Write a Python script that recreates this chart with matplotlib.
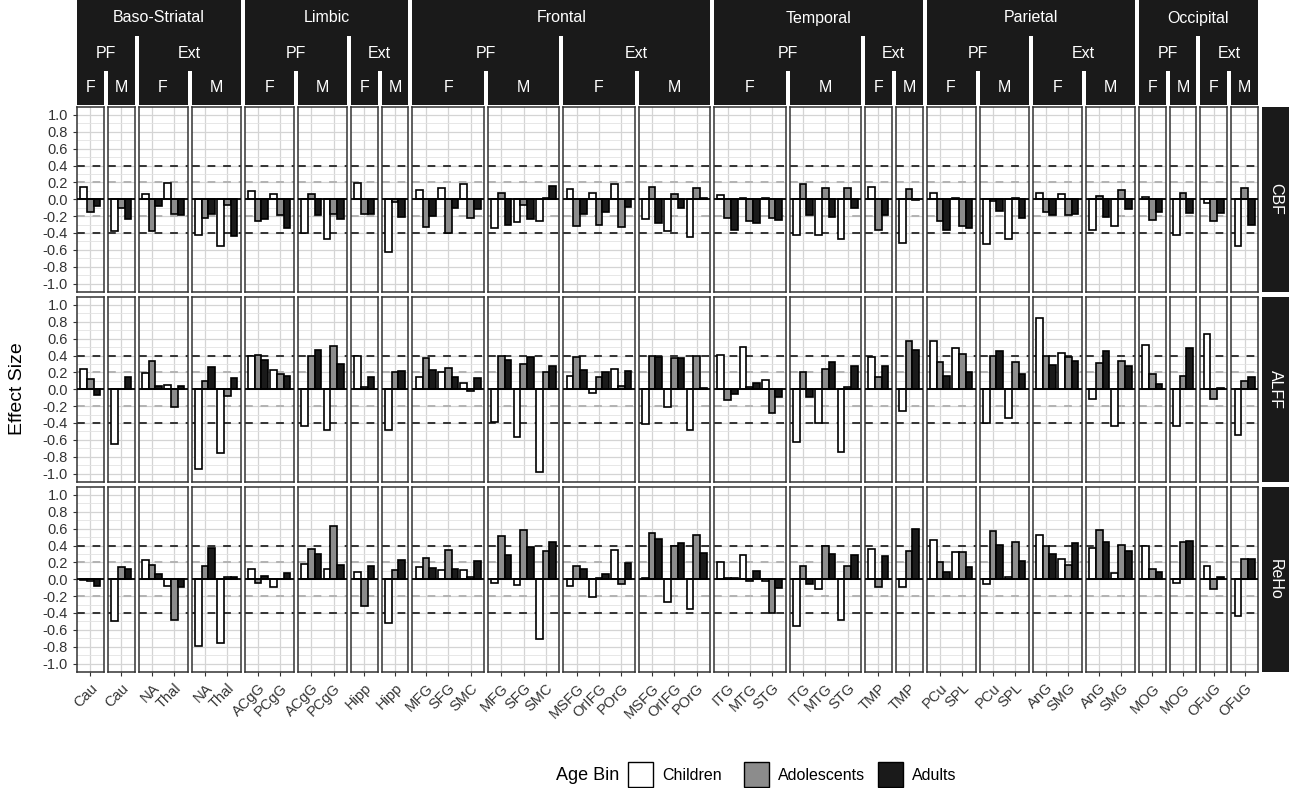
import matplotlib.pyplot as plt
from matplotlib.patches import Rectangle
import numpy as np

plt.rcParams['font.family'] = ['Liberation Sans', 'DejaVu Sans']

# facet layout: one panel per (region, type, sex)
panel_region = ['Baso-Striatal'] * 4 + ['Limbic'] * 4 + ['Frontal'] * 4 + \
    ['Temporal'] * 4 + ['Parietal'] * 4 + ['Occipital'] * 4
panel_type = ['PF', 'PF', 'Ext', 'Ext'] * 6
panel_sex = ['F', 'M'] * 12
panel_rois = [['Cau'], ['Cau'], ['NA', 'Thal'], ['NA', 'Thal'],
              ['ACgG', 'PCgG'], ['ACgG', 'PCgG'], ['Hipp'], ['Hipp'],
              ['MFG', 'SFG', 'SMC'], ['MFG', 'SFG', 'SMC'],
              ['MSFG', 'OrIFG', 'POrG'], ['MSFG', 'OrIFG', 'POrG'],
              ['ITG', 'MTG', 'STG'], ['ITG', 'MTG', 'STG'], ['TMP'], ['TMP'],
              ['PCu', 'SPL'], ['PCu', 'SPL'], ['AnG', 'SMG'], ['AnG', 'SMG'],
              ['MOG'], ['MOG'], ['OFuG'], ['OFuG']]

metrics = ['CBF', 'ALFF', 'ReHo']
age_bins = ['Children', 'Adolescents', 'Adults']

# effect sizes, in panel/ROI order
cbf_children = [0.15, -0.38, 0.06, 0.19, -0.42, -0.56, 0.10, 0.06, -0.40, -0.47, 0.19, -0.62,
                0.11, 0.13, 0.18, -0.34, -0.27, -0.26, 0.12, 0.07, 0.18, -0.24, -0.38, -0.45,
                0.05, 0.02, 0.01, -0.42, -0.42, -0.47, 0.14, -0.52, 0.08, 0.02, -0.53, -0.47,
                0.08, 0.06, -0.36, -0.32, 0.03, -0.42, -0.05, -0.55]
cbf_adolescents = [-0.15, -0.10, -0.38, -0.17, -0.22, -0.07, -0.26, -0.19, 0.06, -0.18, -0.18, -0.03,
                   -0.33, -0.40, -0.22, 0.08, -0.07, 0.01, -0.32, -0.30, -0.33, 0.14, 0.06, 0.13,
                   -0.22, -0.26, -0.22, 0.18, 0.13, 0.13, -0.36, 0.12, -0.26, -0.32, -0.02, 0.02,
                   -0.15, -0.19, 0.04, 0.11, -0.25, 0.07, -0.26, 0.13]
cbf_adults = [-0.08, -0.24, -0.08, -0.19, -0.17, -0.43, -0.23, -0.34, -0.19, -0.24, -0.18, -0.21,
              -0.20, -0.10, -0.11, -0.30, -0.24, 0.16, -0.18, -0.15, -0.09, -0.28, -0.10, 0.01,
              -0.36, -0.28, -0.25, -0.19, -0.21, -0.10, -0.19, -0.01, -0.36, -0.34, -0.14, -0.22,
              -0.19, -0.17, -0.21, -0.12, -0.15, -0.16, -0.16, -0.30]

alff_children = [0.24, -0.65, 0.19, 0.05, -0.95, -0.76, 0.40, 0.23, -0.43, -0.48, 0.40, -0.48,
                 0.14, 0.21, 0.08, -0.39, -0.57, -0.98, 0.16, -0.04, 0.24, -0.41, -0.21, -0.48,
                 0.41, 0.50, 0.11, -0.62, -0.40, -0.75, 0.38, -0.26, 0.57, 0.49, -0.40, -0.34,
                 0.85, 0.43, -0.12, -0.43, 0.53, -0.44, 0.66, -0.54]
alff_adolescents = [0.12, 0.00, 0.33, -0.21, 0.10, -0.08, 0.41, 0.18, 0.40, 0.51, 0.03, 0.20,
                    0.37, 0.25, -0.02, 0.40, 0.30, 0.20, 0.38, 0.15, 0.04, 0.40, 0.37, 0.40,
                    -0.13, 0.03, -0.28, 0.20, 0.24, 0.03, 0.15, 0.57, 0.32, 0.42, 0.39, 0.32,
                    0.39, 0.38, 0.31, 0.34, 0.18, 0.16, -0.11, 0.10]
alff_adults = [-0.07, 0.14, 0.04, 0.04, 0.26, 0.13, 0.35, 0.16, 0.47, 0.30, 0.15, 0.22,
               0.23, 0.15, 0.13, 0.35, 0.38, 0.27, 0.23, 0.21, 0.22, 0.38, 0.37, 0.01,
               -0.06, 0.08, -0.09, -0.09, 0.32, 0.27, 0.27, 0.47, 0.16, 0.21, 0.45, 0.18,
               0.29, 0.33, 0.45, 0.28, 0.06, 0.49, 0.01, 0.14]

reho_children = [-0.01, -0.50, 0.23, -0.08, -0.79, -0.76, 0.12, -0.09, 0.18, 0.12, 0.09, -0.52,
                 0.14, 0.11, 0.11, -0.04, -0.07, -0.71, -0.08, -0.21, 0.35, 0.01, -0.27, -0.35,
                 0.20, 0.29, -0.02, -0.55, -0.12, -0.48, 0.36, -0.09, 0.47, 0.32, -0.06, 0.03,
                 0.53, 0.24, 0.37, 0.08, 0.40, -0.04, 0.16, -0.43]
reho_adolescents = [-0.02, 0.14, 0.17, -0.48, 0.16, 0.03, -0.04, 0.00, 0.36, 0.63, -0.32, 0.11,
                    0.25, 0.35, 0.03, 0.51, 0.58, 0.33, 0.16, 0.02, -0.06, 0.55, 0.40, 0.53,
                    0.01, -0.02, -0.40, 0.16, 0.40, 0.16, -0.09, 0.34, 0.20, 0.32, 0.57, 0.44,
                    0.39, 0.17, 0.59, 0.41, 0.12, 0.44, -0.11, 0.24]
reho_adults = [-0.08, 0.12, 0.06, -0.09, 0.37, 0.03, 0.04, 0.08, 0.30, 0.17, 0.16, 0.23,
               0.13, 0.12, 0.22, 0.29, 0.38, 0.44, 0.12, 0.06, 0.19, 0.48, 0.43, 0.31,
               0.01, 0.10, -0.10, -0.06, 0.30, 0.29, 0.27, 0.60, 0.09, 0.15, 0.41, 0.22,
               0.30, 0.43, 0.44, 0.33, 0.09, 0.45, 0.03, 0.24]

values = {
    'CBF': [cbf_children, cbf_adolescents, cbf_adults],
    'ALFF': [alff_children, alff_adolescents, alff_adults],
    'ReHo': [reho_children, reho_adolescents, reho_adults],
}
fills = ['white', '#8c8c8c', '#1a1a1a']

y_ticks = [1.0, 0.8, 0.6, 0.4, 0.2, 0.0, -0.2, -0.4, -0.6, -0.8, -1.0]
y_tick_labels = ['1.0', '0.8', '0.6', '0.4', '0.2', '0.0', '-0.2', '-0.4', '-0.6', '-0.8', '-1.0']
y_minor = [0.9, 0.7, 0.5, 0.3, 0.1, -0.1, -0.3, -0.5, -0.7, -0.9]

W, H = 1289, 788
fig = plt.figure(figsize=(W / 100, H / 100), dpi=100)


def box(x0, y0, w, h):
    # pixel box measured from the top-left -> figure fraction
    return [x0 / W, 1 - (y0 + h) / H, w / W, h / H]


left, right, gap = 77, 1258, 4
widths = [len(r) + 0.2 for r in panel_rois]
unit = (right - left - gap * (len(widths) - 1)) / sum(widths)
panel_x = []
x = left
for w in widths:
    panel_x.append((x, w * unit))
    x += w * unit + gap

row_top = [106.5, 296.5, 486.5]
row_h = 185.5
strip_color = '#1a1a1a'
text_gray = '#333333'

for r, metric in enumerate(metrics):
    for p, rois in enumerate(panel_rois):
        x0, pw = panel_x[p]
        ax = fig.add_axes(box(x0, row_top[r], pw, row_h))
        n = len(rois)
        pos = np.arange(n)
        start = sum(len(q) for q in panel_rois[:p])
        for k in range(3):
            vals = values[metric][k][start:start + n]
            ax.bar(pos + (k - 1) * 0.3, vals, 0.3, color=fills[k], edgecolor='black',
                   linewidth=1.2, zorder=3)
        ax.axhline(0, color='black', lw=1.3, zorder=4)
        for yv in (0.2, -0.2):
            ax.axhline(yv, color='#b3b3b3', lw=1.4, ls=(0, (4, 4)), zorder=2)
        for yv in (0.4, -0.4):
            ax.axhline(yv, color='#333333', lw=1.4, ls=(0, (4, 4)), zorder=2)
        ax.set_xlim(-0.6, n - 0.4)
        ax.set_ylim(-1.1, 1.1)
        ax.set_yticks(y_ticks)
        ax.set_yticks(y_minor, minor=True)
        ax.set_xticks(pos)
        ax.grid(True, which='major', color='#d4d4d4', lw=0.9, zorder=0)
        ax.grid(True, which='minor', axis='y', color='#e3e3e3', lw=0.6, zorder=0)
        ax.set_axisbelow(True)
        for s in ax.spines.values():
            s.set_color('#333333')
            s.set_linewidth(1.1)
        ax.tick_params(which='minor', length=0)
        ax.tick_params(which='major', length=3, color='#333333', width=0.8)
        if p == 0:
            ax.set_yticklabels(y_tick_labels, fontsize=10.5, color=text_gray)
        else:
            ax.tick_params(axis='y', left=False, labelleft=False)
        if r == 2:
            ax.set_xticklabels(rois, rotation=45, ha='right', va='top',
                               rotation_mode='anchor', fontsize=10.5, color=text_gray)
        else:
            ax.tick_params(axis='x', labelbottom=False, bottom=False)

    # row strip on the right
    fig.add_artist(Rectangle((1262 / W, 1 - (row_top[r] + row_h) / H), 27 / W, row_h / H,
                             transform=fig.transFigure, facecolor=strip_color, edgecolor='none'))
    fig.text(1275.5 / W, 1 - (row_top[r] + row_h / 2) / H, metric, rotation=270,
             ha='center', va='center', color='white', fontsize=11.5)

# nested top strips: region / type / sex
levels = [(0, 36), (36, 71), (71, 104.5)]


def strip(p0, p1, level, label):
    xa = panel_x[p0][0]
    xb = panel_x[p1][0] + panel_x[p1][1]
    ya, yb = levels[level]
    fig.add_artist(Rectangle((xa / W, 1 - yb / H), (xb - xa) / W, (yb - ya) / H,
                             transform=fig.transFigure, facecolor=strip_color, edgecolor='none'))
    fig.text((xa + xb) / 2 / W, 1 - (ya + yb) / 2 / H, label, ha='center', va='center',
             color='white', fontsize=11.5)


for g in range(6):
    strip(4 * g, 4 * g + 3, 0, panel_region[4 * g])
    strip(4 * g, 4 * g + 1, 1, panel_type[4 * g])
    strip(4 * g + 2, 4 * g + 3, 1, panel_type[4 * g + 2])
for p in range(len(panel_rois)):
    strip(p, p, 2, panel_sex[p])

fig.text(18 / W, 1 - 389 / H, 'Effect Size', rotation=90, ha='center', va='center',
         fontsize=14, color='black')

# legend along the bottom
fig.text(588 / W, 1 - 775 / H, 'Age Bin', ha='center', va='center', fontsize=13)
leg_x = [628, 744, 878]
for k, lab in enumerate(age_bins):
    fig.add_artist(Rectangle((leg_x[k] / W, 1 - 787 / H), 25 / W, 25 / H,
                             transform=fig.transFigure, facecolor=fills[k],
                             edgecolor='black', lw=1.0))
    fig.text((leg_x[k] + 34) / W, 1 - 775 / H, lab, ha='left', va='center', fontsize=11.5)

fig.savefig('out.png', dpi=100)
